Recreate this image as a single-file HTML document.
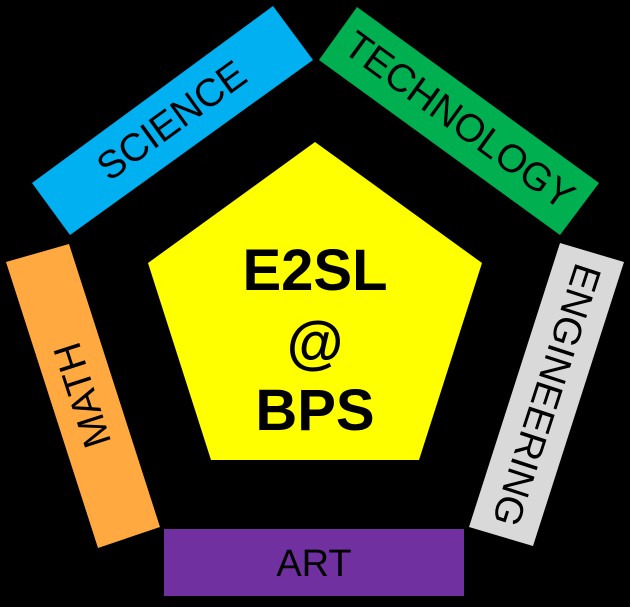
<!DOCTYPE html>
<html><head><meta charset="utf-8"><style>
html,body{margin:0;padding:0;background:#000;width:630px;height:607px;overflow:hidden}
svg{display:block}
text{font-family:"Liberation Sans",Arial,sans-serif;fill:#000}
</style></head><body>
<svg width="630" height="607" viewBox="0 0 630 607" xmlns="http://www.w3.org/2000/svg">
<rect width="630" height="607" fill="#000"/>
<polygon points="32,183 273,6 313,60 70,235" fill="#00b0f0"/>
<polygon points="357,7 599,183 560,235 319,60" fill="#00b050"/>
<polygon points="6,262 69,244 160,527 98,548" fill="#ffa940"/>
<polygon points="560,243 624,262 533,546 469,527" fill="#d9d9d9"/>
<rect x="164" y="529" width="300" height="67" fill="#7030a0"/>
<polygon points="315,142 482,263 419,460 211,460 148,263" fill="#ffff00"/>
<text x="172" y="121" font-size="39" text-anchor="middle" dominant-baseline="central" transform="rotate(-36 172 121)">SCIENCE</text>
<text x="459" y="121" font-size="39" text-anchor="middle" dominant-baseline="central" transform="rotate(36 459 121)">TECHNOLOGY</text>
<text x="83" y="395" font-size="39" text-anchor="middle" dominant-baseline="central" transform="rotate(-108 83 395)">MATH</text>
<text x="546" y="395" font-size="39" text-anchor="middle" dominant-baseline="central" transform="rotate(108 546 395)">ENGINEERING</text>
<text x="314" y="576" font-size="38" text-anchor="middle">ART</text>
<text x="315" y="290" font-size="58" font-weight="bold" text-anchor="middle">E2SL</text>
<text x="315" y="362" font-size="58" font-weight="bold" text-anchor="middle">@</text>
<text x="315" y="430" font-size="58" font-weight="bold" text-anchor="middle">BPS</text>
</svg>
</body></html>
